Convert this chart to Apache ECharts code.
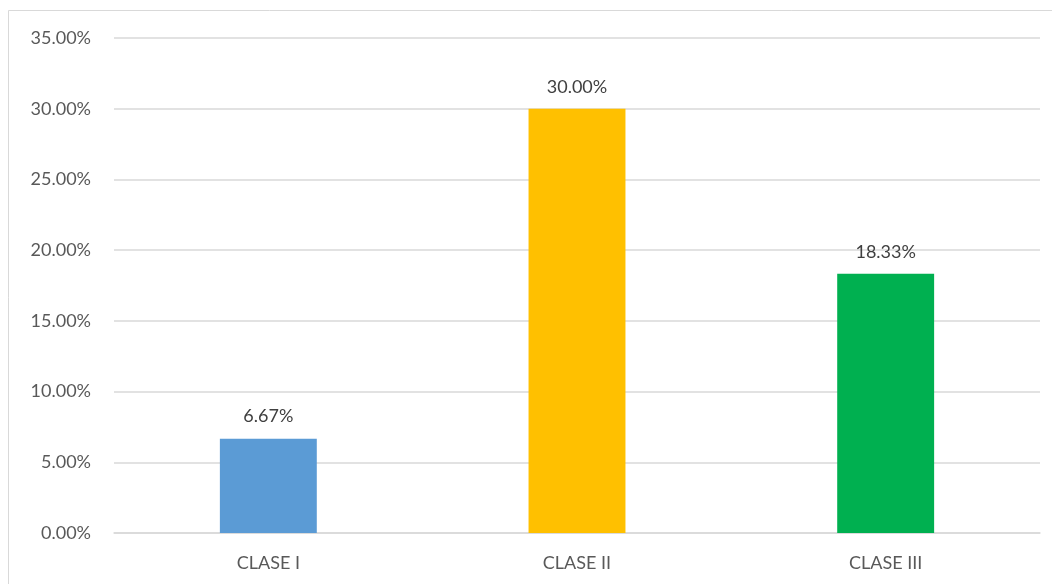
<!DOCTYPE html>
<html>
<head>
<meta charset="utf-8">
<script src="https://cdn.jsdelivr.net/npm/echarts@6/dist/echarts.min.js"></script>
<style>
html,body{margin:0;padding:0;background:#fff;}
#c{width:1052px;height:584px;}
</style>
</head>
<body>
<div id="c"></div>
<script>
const categories = ['CLASE I', 'CLASE II', 'CLASE III'];
const values = [6.67, 30.00, 18.33];
const barColors = ['#5B9BD5', '#FFC000', '#00B050'];
const yMin = 0, yMax = 35, yStep = 5;

const chart = echarts.init(document.getElementById('c'), null, {renderer: 'canvas'});
const font = 'Lato, "Open Sans", sans-serif';
chart.setOption({
  animation: false,
  backgroundColor: '#fff',
  graphic: [{
    type: 'rect', silent: true, z: -1,
    shape: {x: 8.5, y: 10.5, width: 1100, height: 700},
    style: {fill: 'none', stroke: '#D9D9D9', lineWidth: 1}
  }],
  grid: {left: 114, right: 12, top: 38, bottom: 51, containLabel: false},
  xAxis: {
    type: 'category',
    data: categories,
    axisLine: {show: true, lineStyle: {color: '#D9D9D9', width: 1.5}},
    axisTick: {show: false},
    axisLabel: {color: '#595959', fontFamily: font, fontSize: 18, margin: 21}
  },
  yAxis: {
    type: 'value',
    min: yMin, max: yMax, interval: yStep,
    axisLine: {show: false},
    axisTick: {show: false},
    splitLine: {lineStyle: {color: '#D9D9D9', width: 1.5}},
    axisLabel: {
      color: '#595959', fontFamily: font, fontSize: 18, margin: 23,
      formatter: v => v.toFixed(2) + '%'
    }
  },
  series: [{
    type: 'bar',
    barWidth: '31.4%',
    data: values.map((v, i) => ({value: v, itemStyle: {color: barColors[i]}})),
    label: {
      show: true, position: 'top', distance: 13,
      color: '#404040', fontFamily: font, fontSize: 18,
      formatter: p => p.value.toFixed(2) + '%'
    }
  }]
});
</script>
</body>
</html>
